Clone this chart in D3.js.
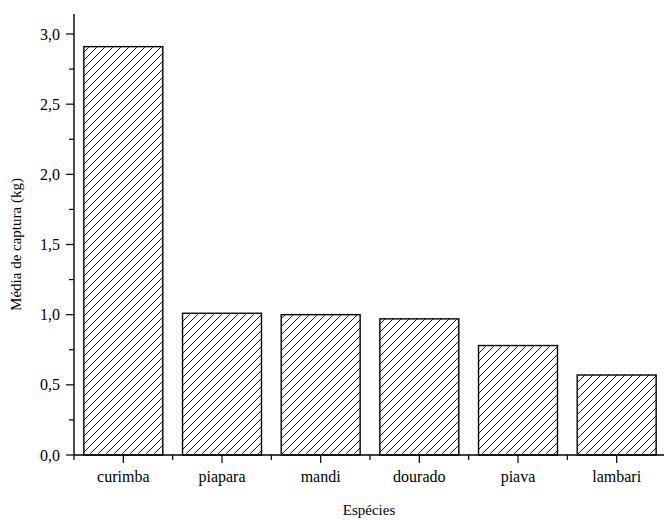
<!DOCTYPE html>
<html><head><meta charset="utf-8">
<script src="https://cdn.jsdelivr.net/npm/d3@7"></script>
<style>body{margin:0;background:#fff}svg{display:block}text{font-family:"Liberation Serif","Times New Roman",Times,serif}</style>
</head><body>
<script>
const categories = ["curimba","piapara","mandi","dourado","piava","lambari"];
const values = [2.91, 1.01, 1.00, 0.97, 0.78, 0.57];
const yTicks = [0, 0.5, 1.0, 1.5, 2.0, 2.5, 3.0];
const yMinorTicks = [0.25, 0.75, 1.25, 1.75, 2.25, 2.75];
const xTitle = "Espécies";
const yTitle = "Média de captura (kg)";

const W = 664, H = 520;
const svg = d3.select("body").append("svg").attr("width", W).attr("height", H);

const defs = svg.append("defs");
const pat = defs.append("pattern").attr("id","hatch").attr("patternUnits","userSpaceOnUse")
  .attr("width",8).attr("height",8);
pat.append("rect").attr("width",8).attr("height",8).attr("fill","#fff");
pat.append("path").attr("d","M-1,1 l2,-2 M0,8 l8,-8 M7,9 l2,-2")
  .attr("stroke","#000").attr("stroke-width",0.9);

const x0 = 74, x1 = 666, yBase = 455;
const x = d3.scaleBand().domain(categories).range([x0, x1]).paddingInner(0.2).paddingOuter(0.1);
const y = d3.scaleLinear().domain([0, 3.0]).range([yBase, 34]);

svg.append("g").selectAll("rect").data(categories).join("rect")
  .attr("x", d => x(d)).attr("width", x.bandwidth())
  .attr("y", (d,i) => y(values[i])).attr("height", (d,i) => yBase - y(values[i]))
  .attr("fill","url(#hatch)").attr("stroke","#000").attr("stroke-width",1.4);

const fmt = v => d3.format(".1f")(v).replace(".", ",");

const yAxis = svg.append("g").attr("transform",`translate(${x0},0)`);
yAxis.append("line").attr("x1",0).attr("x2",0).attr("y1",14).attr("y2",yBase).attr("stroke","#000").attr("stroke-width",1.4);
yAxis.selectAll("line.maj").data(yTicks).join("line").attr("class","maj")
  .attr("x1",-8).attr("x2",0).attr("y1",d=>y(d)).attr("y2",d=>y(d)).attr("stroke","#000").attr("stroke-width",1.2);
yAxis.selectAll("line.min").data(yMinorTicks).join("line").attr("class","min")
  .attr("x1",-5).attr("x2",0).attr("y1",d=>y(d)).attr("y2",d=>y(d)).attr("stroke","#000").attr("stroke-width",1.2);
yAxis.selectAll("text").data(yTicks).join("text")
  .attr("x",-14).attr("y",d=>y(d)).attr("dy","0.35em").attr("text-anchor","end")
  .attr("font-size",16).text(fmt);

const step = x.step();
const minorX = d3.range(categories.length+1).map(i => x0 + i*step);
const xAxis = svg.append("g");
xAxis.append("line").attr("x1",x0).attr("x2",W).attr("y1",yBase).attr("y2",yBase).attr("stroke","#000").attr("stroke-width",1.4);
xAxis.selectAll("line.maj").data(categories).join("line").attr("class","maj")
  .attr("x1",d=>x(d)+x.bandwidth()/2).attr("x2",d=>x(d)+x.bandwidth()/2)
  .attr("y1",yBase).attr("y2",yBase+8).attr("stroke","#000").attr("stroke-width",1.2);
xAxis.selectAll("line.min").data(minorX).join("line").attr("class","min")
  .attr("x1",d=>d).attr("x2",d=>d).attr("y1",yBase).attr("y2",yBase+5).attr("stroke","#000").attr("stroke-width",1.2);
xAxis.selectAll("text").data(categories).join("text")
  .attr("x",d=>x(d)+x.bandwidth()/2).attr("y",482).attr("text-anchor","middle")
  .attr("font-size",16).text(d=>d);

svg.append("text").attr("x", (x0+W)/2).attr("y",515).attr("text-anchor","middle")
  .attr("font-size",15).text(xTitle);
svg.append("text").attr("transform",`translate(21,${(yBase+34)/2}) rotate(-90)`)
  .attr("text-anchor","middle").attr("font-size",15).text(yTitle);
</script>
</body></html>
